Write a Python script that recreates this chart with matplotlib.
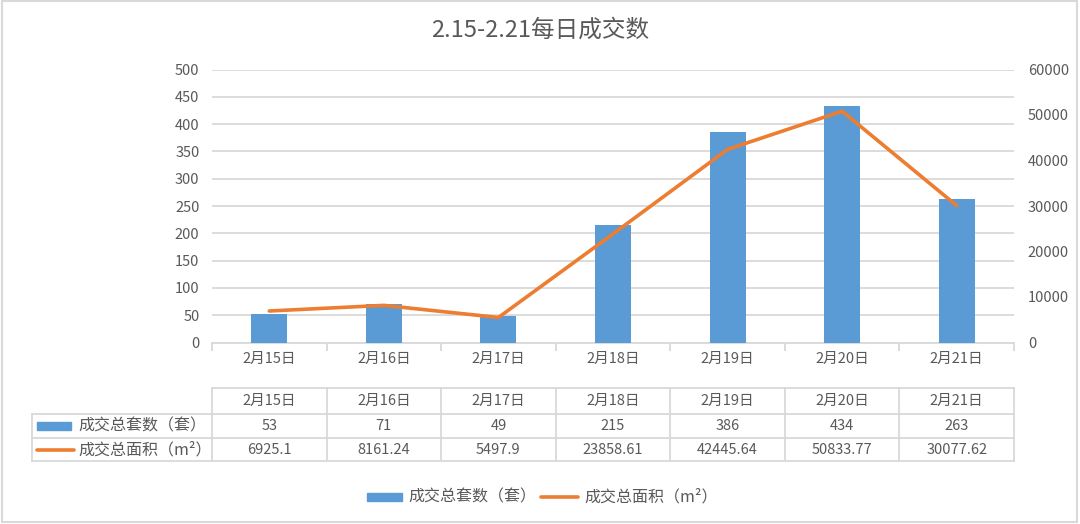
import numpy as np
import matplotlib
matplotlib.use("Agg")
import matplotlib.pyplot as plt
from matplotlib.lines import Line2D
from matplotlib.patches import Rectangle

plt.rcParams['font.family'] = ['Noto Sans CJK SC', 'DejaVu Sans']

# datos
fechas = ["2月15日", "2月16日", "2月17日", "2月18日", "2月19日", "2月20日", "2月21日"]
taos = [53, 71, 49, 215, 386, 434, 263]
area = [6925.1, 8161.24, 5497.9, 23858.61, 42445.64, 50833.77, 30077.62]
area_txt = ["6925.1", "8161.24", "5497.9", "23858.61", "42445.64", "50833.77", "30077.62"]
serie1 = "成交总套数（套）"
serie2 = "成交总面积（m²）"
titulo = "2.15-2.21每日成交数"

azul = "#5B9BD5"
naranja = "#ED7D31"
gris = "#595959"
rejilla = "#D9D9D9"

W, H = 1080, 524
fig = plt.figure(figsize=(W / 100, H / 100), dpi=100)

def fx(px):
    return px / W

def fy(py):
    return 1 - py / H

x0, x1, ytop, ybot = 212, 1014, 69.5, 342.5
ax = fig.add_axes([fx(x0), fy(ybot), fx(x1) - fx(x0), fy(ytop) - fy(ybot)])
ax2 = ax.twinx()

n = len(fechas)
x = np.arange(n)
ax.bar(x, taos, width=0.314, color=azul, zorder=3)
ax2.plot(x, area, color=naranja, lw=2.6, solid_capstyle='round', zorder=4)

ax.set_xlim(-0.5, n - 0.5)
ax.set_ylim(0, 500)
ax.set_yticks(np.arange(0, 501, 50))
ax2.set_ylim(0, 60000)
ax2.set_yticks(np.arange(0, 60001, 10000))
ax.yaxis.grid(True, color=rejilla, lw=1.3, zorder=0)
ax.set_axisbelow(True)
ax.set_zorder(ax2.get_zorder() - 1)
ax.patch.set_visible(False)
ax2.patch.set_visible(False)

for a in (ax, ax2):
    for s in a.spines.values():
        s.set_visible(False)
ax.spines['bottom'].set_visible(True)
ax.spines['bottom'].set_color(rejilla)
ax.spines['bottom'].set_linewidth(1.3)

ax.set_xticks(x)
ax.set_xticklabels(fechas)
ax.set_xticks(np.arange(-0.5, n, 1), minor=True)
ax.tick_params(axis='x', which='major', length=0, pad=7, labelsize=10.5, labelcolor=gris)
ax.tick_params(axis='x', which='minor', length=6, color=rejilla, width=1.3)
ax.tick_params(axis='y', length=0, pad=9, labelsize=10.5, labelcolor=gris)
ax2.tick_params(axis='y', length=0, pad=10, labelsize=10.5, labelcolor=gris)

fig.text(0.5, fy(30), titulo, ha='center', va='center', fontsize=17, color=gris)

# tabla de datos
rows = [388, 414, 438, 461]
lx = 32
colw = (x1 - x0) / n
lc = dict(color=rejilla, lw=1.3, transform=fig.transFigure)
fig.add_artist(Line2D([fx(x0), fx(x1)], [fy(rows[0])] * 2, **lc))
for r in rows[1:]:
    fig.add_artist(Line2D([fx(lx), fx(x1)], [fy(r)] * 2, **lc))
fig.add_artist(Line2D([fx(lx)] * 2, [fy(rows[1]), fy(rows[3])], **lc))
for i in range(n + 1):
    xc = x0 + i * colw
    fig.add_artist(Line2D([fx(xc)] * 2, [fy(rows[0]), fy(rows[3])], **lc))

for i in range(n):
    xc = fx(x0 + (i + 0.5) * colw)
    fig.text(xc, fy((rows[0] + rows[1]) / 2), fechas[i], ha='center', va='center', fontsize=10.5, color=gris)
    fig.text(xc, fy((rows[1] + rows[2]) / 2), str(taos[i]), ha='center', va='center', fontsize=10.5, color=gris)
    fig.text(xc, fy((rows[2] + rows[3]) / 2), area_txt[i], ha='center', va='center', fontsize=10.5, color=gris)

ym1 = (rows[1] + rows[2]) / 2
ym2 = (rows[2] + rows[3]) / 2
fig.add_artist(Rectangle((fx(37), fy(ym1 + 4)), fx(71) - fx(37), fy(ym1 - 4) - fy(ym1 + 4),
                         color=azul, transform=fig.transFigure))
fig.add_artist(Line2D([fx(37), fx(74)], [fy(ym2)] * 2, color=naranja, lw=2.6,
                      solid_capstyle='round', transform=fig.transFigure))
fig.text(fx(78), fy(ym1), serie1, ha='left', va='center', fontsize=11.5, color=gris)
fig.text(fx(78), fy(ym2), serie2, ha='left', va='center', fontsize=11.5, color=gris)

# leyenda inferior
yl = 497
fig.add_artist(Rectangle((fx(367), fy(yl + 4)), fx(402) - fx(367), fy(yl - 4) - fy(yl + 4),
                         color=azul, transform=fig.transFigure))
fig.text(fx(408), fy(yl), serie1, ha='left', va='center', fontsize=11.5, color=gris)
fig.add_artist(Line2D([fx(541), fx(578)], [fy(yl)] * 2, color=naranja, lw=2.6,
                      solid_capstyle='round', transform=fig.transFigure))
fig.text(fx(584), fy(yl), serie2, ha='left', va='center', fontsize=11.5, color=gris)

# borde
fig.add_artist(Rectangle((fx(2), fy(522)), fx(1077) - fx(2), fy(1) - fy(522), fill=False,
                         edgecolor=rejilla, lw=1.5, transform=fig.transFigure))

fig.savefig("out.png", dpi=100)
